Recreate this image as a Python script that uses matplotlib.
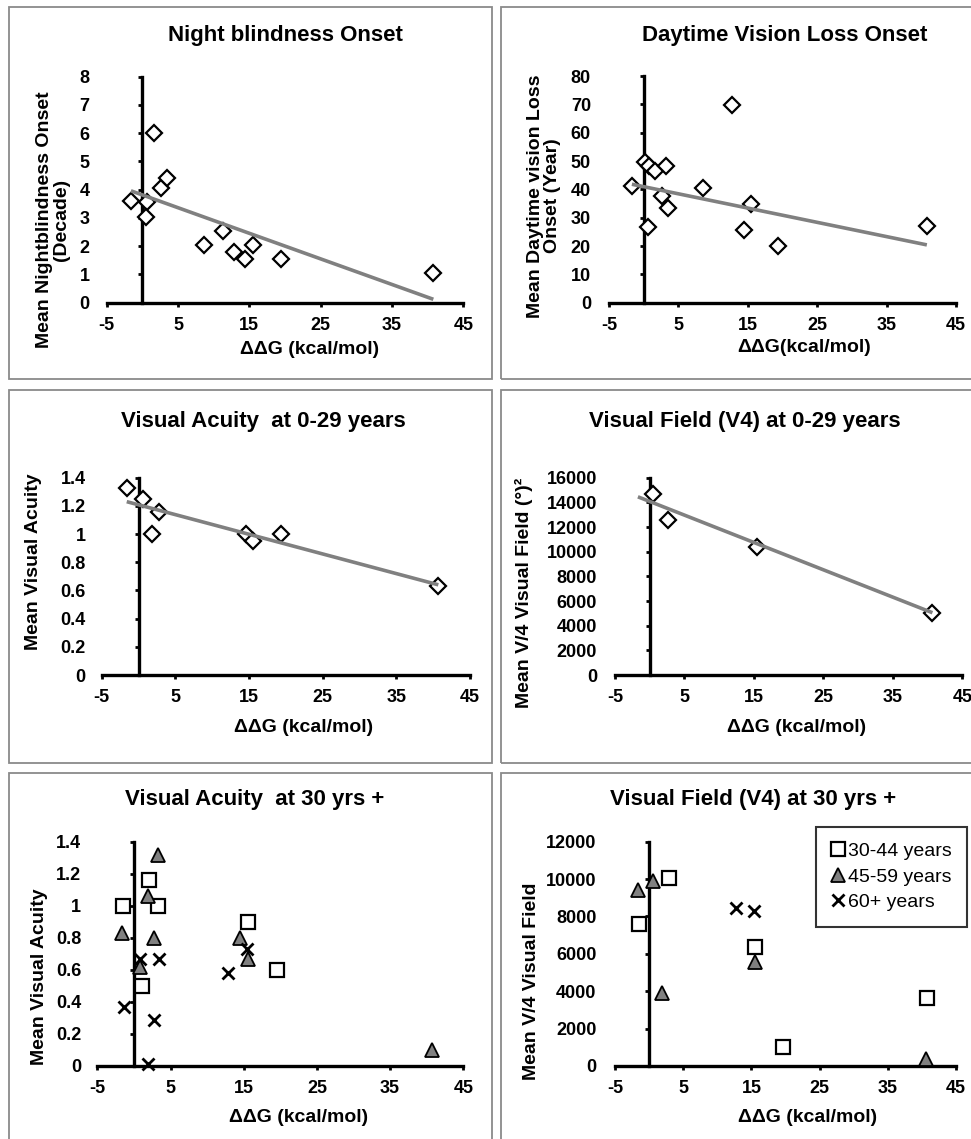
import numpy as np
import matplotlib
matplotlib.use("Agg")
from matplotlib import pyplot as plt
from matplotlib.patches import Rectangle

# ---- data ----
# Night blindness onset (decade)
nb_x = [-1.6, 0.6, 0.5, 1.7, 2.6, 3.5, 8.7, 11.3, 12.8, 14.4, 15.5, 19.4, 40.7]
nb_y = [3.6, 3.55, 3.05, 6.0, 4.05, 4.4, 2.05, 2.55, 1.8, 1.55, 2.05, 1.55, 1.05]
nb_trend_x = [-1.6, 40.8]
nb_trend_y = [3.96, 0.12]

# Daytime vision loss onset (year)
dv_x = [-1.7, 0.2, 0.7, 1.6, 3.2, 2.6, 3.5, 0.6, 8.6, 12.7, 15.4, 14.5, 19.4, 40.8]
dv_y = [41.2, 49.5, 48.4, 46.6, 48.4, 37.6, 33.3, 26.6, 40.4, 69.8, 34.8, 25.6, 20.1, 27.2]
dv_trend_x = [-1.7, 40.8]
dv_trend_y = [41.8, 20.4]

# Visual acuity 0-29 years
va_x = [-1.6, 0.6, 2.8, 1.8, 14.6, 15.6, 19.4, 40.7]
va_y = [1.33, 1.25, 1.16, 1.0, 1.0, 0.95, 1.0, 0.63]
va_trend_x = [-1.6, 40.7]
va_trend_y = [1.23, 0.64]

# Visual field (V4) 0-29 years
vf_x = [0.5, 2.7, 15.4, 40.7]
vf_y = [14700, 12600, 10400, 5050]
vf_trend_x = [-1.7, 40.7]
vf_trend_y = [14450, 5050]

# Visual acuity 30 yrs +
va30_x = [-1.5, 2.0, 3.3, 15.6, 19.5, 1.1]
va30_y = [1.0, 1.16, 1.0, 0.9, 0.6, 0.5]
va45_x = [-1.6, 3.3, 1.9, 2.8, 0.9, 14.5, 15.6, 40.7]
va45_y = [0.83, 1.32, 1.06, 0.8, 0.62, 0.8, 0.67, 0.1]
va60_x = [-1.4, 0.9, 3.4, 2.8, 1.9, 12.8, 15.4]
va60_y = [0.37, 0.67, 0.67, 0.29, 0.01, 0.58, 0.73]

# Visual field (V4) 30 yrs +
vf30_x = [-1.55, 2.85, 15.5, 19.6, 40.7]
vf30_y = [7600, 10050, 6350, 1000, 3650]
vf45_x = [-1.65, 0.64, 1.86, 15.5, 40.6]
vf45_y = [9400, 9900, 3900, 5550, 400]
vf60_x = [12.8, 15.4]
vf60_y = [8450, 8300]

group_labels = ["30-44 years", "45-59 years", "60+ years"]

x_ticks = [-5, 5, 15, 25, 35, 45]
va_ticks = [0, 0.2, 0.4, 0.6, 0.8, 1.0, 1.2, 1.4]
va_ticklabels = ["0", "0.2", "0.4", "0.6", "0.8", "1", "1.2", "1.4"]

W, H = 971, 1139
plt.rcParams["font.family"] = ["Liberation Sans", "DejaVu Sans"]
plt.rcParams["font.weight"] = "bold"
plt.rcParams["axes.unicode_minus"] = False

fig = plt.figure(figsize=(W / 100, H / 100), dpi=100)


def fx(x):
    return x / W


def fy(y):
    return 1 - y / H


def make_axes(left, top, right, bottom):
    ax = fig.add_axes([fx(left), fy(bottom), (right - left) / W, (bottom - top) / H])
    ax.set_facecolor("none")
    ax.spines["left"].set_position(("data", 0))
    for s in ["left", "bottom"]:
        ax.spines[s].set_linewidth(2.4)
    for s in ["top", "right"]:
        ax.spines[s].set_visible(False)
    ax.set_xlim(-5, 45)
    ax.set_xticks(x_ticks)
    ax.tick_params(axis="y", direction="out", length=3, width=2, pad=35, labelsize=13)
    ax.tick_params(axis="x", direction="out", length=3, width=2, pad=7, labelsize=13)
    return ax


def diamonds(ax, xs, ys, tx, ty):
    ax.plot(xs, ys, "D", ms=8, mfc="white", mec="black", mew=1.6, clip_on=False, zorder=3)
    ax.plot(tx, ty, color="#808080", lw=2.6, solid_capstyle="butt", zorder=4)


def groups(ax, x1, y1, x2, y2, x3, y3):
    h1, = ax.plot(x1, y1, "s", ms=9.5, mfc="white", mec="black", mew=1.6, clip_on=False, zorder=3)
    h2, = ax.plot(x2, y2, "^", ms=10, mfc="#808080", mec="black", mew=1.3, clip_on=False, zorder=4)
    h3, = ax.plot(x3, y3, "x", ms=9, mec="black", mew=2, clip_on=False, zorder=5)
    return [h1, h2, h3]


def labels(title, tpos, xlabel, xpos, ylabel, ypos):
    fig.text(fx(tpos[0]), fy(tpos[1]), title, ha="center", va="center", fontsize=16)
    fig.text(fx(xpos[0]), fy(xpos[1]), xlabel, ha="center", va="center", fontsize=14)
    fig.text(fx(ypos[0]), fy(ypos[1]), ylabel, ha="center", va="center", fontsize=14,
             rotation=90, multialignment="center", linespacing=1.05)


# panel frames
for (l, t, r, b) in [(9, 7, 492, 379), (501, 7, 990, 379),
                     (9, 390, 492, 763), (501, 390, 990, 763),
                     (9, 773, 492, 1160), (501, 773, 990, 1160)]:
    fig.patches.append(Rectangle((fx(l), fy(b)), (r - l) / W, (b - t) / H,
                                 transform=fig.transFigure, fill=False,
                                 edgecolor="#8a8a8a", lw=1.3))

# Night blindness
ax = make_axes(106.7, 76.7, 463.3, 302.7)
ax.set_ylim(0, 8)
ax.set_yticks(range(0, 9))
diamonds(ax, nb_x, nb_y, nb_trend_x, nb_trend_y)
labels("Night blindness Onset", (285, 35), "ΔΔG (kcal/mol)", (310, 350),
       "Mean Nightblindness Onset\n(Decade)", (53, 220))

# Daytime vision loss
ax = make_axes(609, 76, 956, 302.7)
ax.set_ylim(0, 80)
ax.set_yticks(range(0, 81, 10))
diamonds(ax, dv_x, dv_y, dv_trend_x, dv_trend_y)
labels("Daytime Vision Loss Onset", (785, 35), "ΔΔG(kcal/mol)", (804, 348),
       "Mean Daytime vision Loss\nOnset (Year)", (544, 196))

# Visual acuity 0-29
ax = make_axes(101.7, 477.7, 470, 675)
ax.set_ylim(0, 1.4)
ax.set_yticks(va_ticks)
ax.set_yticklabels(va_ticklabels)
diamonds(ax, va_x, va_y, va_trend_x, va_trend_y)
labels("Visual Acuity  at 0-29 years", (263, 422), "ΔΔG (kcal/mol)", (304, 728),
       "Mean Visual Acuity", (34, 562))

# Visual field 0-29
ax = make_axes(615, 477.7, 962.3, 675)
ax.set_ylim(0, 16000)
ax.set_yticks(range(0, 16001, 2000))
diamonds(ax, vf_x, vf_y, vf_trend_x, vf_trend_y)
labels("Visual Field (V4) at 0-29 years", (745, 422), "ΔΔG (kcal/mol)", (797, 728),
       "Mean V/4 Visual Field (°)²", (524, 593))

# Visual acuity 30+
ax = make_axes(97.3, 841.7, 463.3, 1066)
ax.set_ylim(0, 1.4)
ax.set_yticks(va_ticks)
ax.set_yticklabels(va_ticklabels)
groups(ax, va30_x, va30_y, va45_x, va45_y, va60_x, va60_y)
labels("Visual Acuity  at 30 yrs +", (255, 800), "ΔΔG (kcal/mol)", (299, 1118),
       "Mean Visual Acuity", (40, 977))

# Visual field 30+
ax = make_axes(615, 841.7, 956, 1066)
ax.set_ylim(0, 12000)
ax.set_yticks(range(0, 12001, 2000))
handles = groups(ax, vf30_x, vf30_y, vf45_x, vf45_y, vf60_x, vf60_y)
labels("Visual Field (V4) at 30 yrs +", (753, 799), "ΔΔG (kcal/mol)", (808, 1118),
       "Mean V/4 Visual Field", (532, 981))
leg = fig.legend(handles, group_labels, loc="upper left",
                 bbox_to_anchor=(fx(816), fy(827)), bbox_transform=fig.transFigure,
                 borderaxespad=0, frameon=True, fancybox=False, edgecolor="black",
                 prop={"size": 14, "weight": "normal"}, handlelength=0.7,
                 handletextpad=0.15, labelspacing=0.4, borderpad=0.8)
leg.get_frame().set_linewidth(1.5)

fig.savefig("out.png", dpi=100)
